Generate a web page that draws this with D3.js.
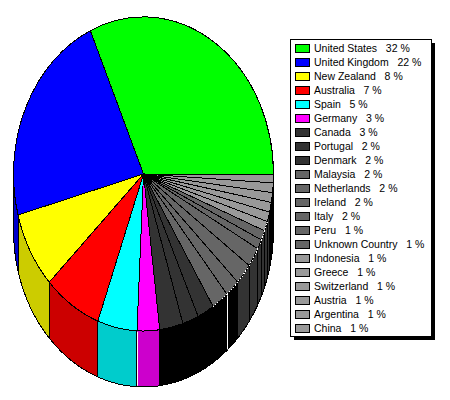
<!DOCTYPE html>
<html>
<head>
<meta charset="utf-8">
<script src="https://cdn.jsdelivr.net/npm/d3@7"></script>
<style>
html, body { margin: 0; padding: 0; background: #fff; }
text { font-family: "Liberation Sans", Arial, sans-serif; font-size: 10.5px; fill: #000; white-space: pre; }
</style>
</head>
<body>
<div id="chart"></div>
<script>
var countries = ["United States", "United Kingdom", "New Zealand", "Australia", "Spain", "Germany", "Canada", "Portugal", "Denmark", "Malaysia", "Netherlands", "Ireland", "Italy", "Peru", "Unknown Country", "Indonesia", "Greece", "Switzerland", "Austria", "Argentina", "China"];
var percents = [31.7, 22.5, 7.9, 7.2, 4.9, 2.8, 2.9, 2.0, 2.1, 2.1, 1.8, 2.2, 2.0, 1.0, 1.0, 1.0, 1.0, 1.0, 1.0, 1.0, 0.9];
var labels = [32, 22, 8, 7, 5, 3, 3, 2, 2, 2, 2, 2, 2, 1, 1, 1, 1, 1, 1, 1, 1];
var topColors = ["#00ff00", "#0000ff", "#ffff00", "#ff0000", "#00ffff", "#ff00ff", "#333333", "#333333", "#333333", "#666666", "#666666", "#666666", "#666666", "#666666", "#666666", "#999999", "#999999", "#999999", "#999999", "#999999", "#999999"];
var sideColors = ["#00cc00", "#0000cc", "#cccc00", "#cc0000", "#00cccc", "#cc00cc", "#000000", "#000000", "#000000", "#000000", "#000000", "#333333", "#333333", "#333333", "#333333", "#333333", "#333333", "#000000", "#000000", "#000000", "#000000"];
var whiteEdges = ["Germany", "Netherlands"];
var dottedRim = ["Malaysia", "Netherlands", "Ireland", "Italy", "Peru", "Unknown Country", "Indonesia"];

var cx = 143.5, cy = 174, rx = 130, ry = 157, depth = 56;
var frontStart = -Math.PI / 2, frontEnd = -3 * Math.PI / 2;

var svg = d3.select("#chart")
    .append("svg")
    .attr("width", 450)
    .attr("height", 400)
    .style("display", "block");

// counter clockwise from 3 o'clock, d3 angle 0 is 12 o'clock
var pie = d3.pie()
    .value(function(d) { return d; })
    .sort(null)
    .startAngle(Math.PI / 2)
    .endAngle(Math.PI / 2 - 2 * Math.PI);

var slices = pie(percents);
var arc = d3.arc().innerRadius(0).outerRadius(1);

function px(a) { return cx + rx * Math.sin(a); }
function py(a) { return cy - ry * Math.cos(a); }

function rimPath(d) {
    var a0 = d.endAngle, a1 = d.startAngle;
    return "M" + px(a0) + "," + py(a0) + "A" + rx + "," + ry + ",0,0,1," + px(a1) + "," + py(a1);
}

// side of one slice, clipped to the front half of the ellipse
function wallPath(d) {
    var a0 = Math.max(d.endAngle, frontEnd), a1 = Math.min(d.startAngle, frontStart);
    if (a1 <= a0) return null;
    return rimPath({ startAngle: a1, endAngle: a0 })
        + "L" + px(a1) + "," + (py(a1) + depth)
        + "A" + rx + "," + ry + ",0,0,0," + px(a0) + "," + (py(a0) + depth)
        + "Z";
}

svg.append("g")
    .selectAll("path")
    .data(slices)
    .enter()
    .append("path")
    .attr("d", wallPath)
    .style("fill", function(d, i) { return sideColors[i]; })
    .style("stroke", "#000")
    .style("shape-rendering", "crispEdges");

svg.append("g")
    .selectAll("line")
    .data(slices.filter(function(d) { return whiteEdges.indexOf(countries[d.index]) >= 0; }))
    .enter()
    .append("line")
    .attr("x1", function(d) { return Math.round(px(d.startAngle)) + 0.5; })
    .attr("x2", function(d) { return Math.round(px(d.startAngle)) + 0.5; })
    .attr("y1", function(d) { return py(d.startAngle) + 1; })
    .attr("y2", function(d) { return py(d.startAngle) + depth - 1; })
    .style("stroke", "#fff");

svg.append("g")
    .attr("transform", "translate(" + cx + "," + cy + ") scale(" + rx + "," + ry + ")")
    .selectAll("path")
    .data(slices)
    .enter()
    .append("path")
    .attr("d", arc)
    .attr("vector-effect", "non-scaling-stroke")
    .style("fill", function(d, i) { return topColors[i]; })
    .style("stroke", "#000")
    .style("shape-rendering", "crispEdges");

svg.append("g")
    .selectAll("path")
    .data(slices.filter(function(d) { return dottedRim.indexOf(countries[d.index]) >= 0; }))
    .enter()
    .append("path")
    .attr("d", rimPath)
    .style("fill", "none")
    .style("stroke", "#fff")
    .style("stroke-dasharray", "1,2")
    .style("shape-rendering", "crispEdges");

// legend
var legendX = 290, legendY = 39, legendW = 141, legendH = 297, rowH = 14;
var rows = d3.scaleBand()
    .domain(d3.range(countries.length))
    .range([legendY + 4, legendY + 4 + rowH * countries.length]);

svg.append("rect")
    .attr("x", legendX + 4).attr("y", legendY + 4)
    .attr("width", legendW).attr("height", legendH)
    .style("fill", "#000");

svg.append("rect")
    .attr("x", legendX + 0.5).attr("y", legendY + 0.5)
    .attr("width", legendW).attr("height", legendH)
    .style("fill", "#fff")
    .style("stroke", "#000");

var row = svg.append("g")
    .selectAll("g")
    .data(countries)
    .enter()
    .append("g")
    .attr("transform", function(d, i) { return "translate(" + legendX + "," + rows(i) + ")"; });

row.append("rect")
    .attr("x", 5.5).attr("y", 1.5)
    .attr("width", 14).attr("height", 8)
    .style("fill", function(d, i) { return topColors[i]; })
    .style("stroke", "#000");

row.append("text")
    .attr("x", 24)
    .attr("y", 9)
    .text(function(d, i) { return d + "   " + labels[i] + " %"; });
</script>
</body>
</html>
